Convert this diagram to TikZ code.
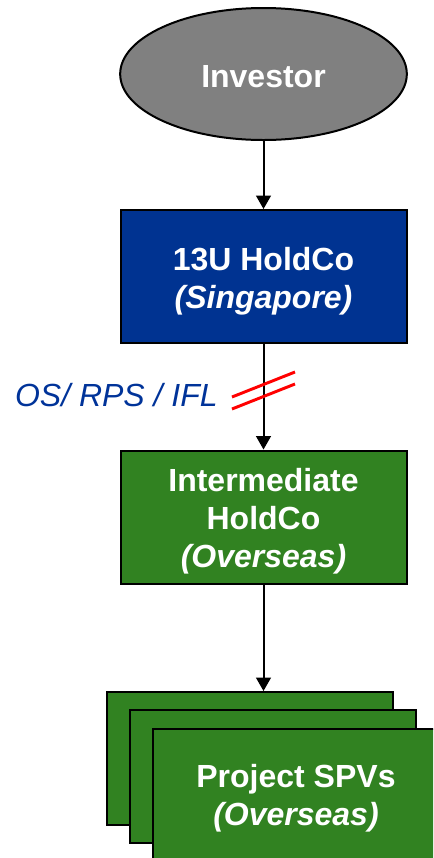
\documentclass[tikz,border=0pt]{standalone}
\usepackage{fontspec}
\setmainfont{Liberation Sans}
\usetikzlibrary{shapes.geometric,arrows.meta}
\definecolor{invgray}{RGB}{128,128,128}
\definecolor{hcblue}{RGB}{0,51,145}
\definecolor{hcgreen}{RGB}{49,130,33}
\definecolor{lblblue}{RGB}{0,51,153}
\begin{document}
\begin{tikzpicture}[x=0.75pt,y=-0.75pt,
  boxtext/.style={text=white,align=center,inner sep=0pt,font=\fontsize{24}{28.5}\selectfont\bfseries},
  entbox/.style={draw=black,line width=1.5pt,minimum width=214.5pt,minimum height=99.75pt,inner sep=0pt},
  arr/.style={line width=1.5pt,-{Triangle[width=11pt,length=10pt]}},
  cutline/.style={red,line width=2.2pt}
]
\clip (0,0) rectangle (433,858);
\useasboundingbox (0,0) rectangle (433,858);
\node[ellipse,draw=black,line width=1.5pt,fill=invgray,minimum width=215pt,minimum height=99pt,inner sep=0pt] (inv) at (263.5,74) {};
\node[boxtext] (invt) at ([yshift=-2.3pt]inv.center) {Investor};
\node[entbox,fill=hcblue] (sg) at (263.5,276.5) {};
\node[boxtext] (sgt) at ([yshift=-3.2pt]sg.center) {13U HoldCo\\\textit{(Singapore)}};
\node[entbox,fill=hcgreen] (ih) at (263.5,517) {};
\node[boxtext] (iht) at ([yshift=-3.5pt]ih.center) {Intermediate\\HoldCo\\\textit{(Overseas)}};
\node[entbox,fill=hcgreen] (spv1) at (250,758.5) {};
\node[entbox,fill=hcgreen] (spv2) at (273,776.5) {};
\node[entbox,fill=hcgreen] (spv3) at (296,795.5) {};
\node[boxtext] (spvt) at ([yshift=-2.3pt]spv3.center) {Project SPVs\\\textit{(Overseas)}};
\draw[arr] (inv.south) -- (sg.north);
\draw[arr] (sg.south) -- (ih.north);
\draw[arr] (ih.south) -- (ih.south |- spv1.north);
\draw[cutline] (232,397) -- (295,372);
\draw[cutline] (232,409) -- (295,384);
\node[anchor=base east,inner sep=0pt,text=lblblue,font=\fontsize{24}{28}\selectfont\itshape] (lbl) at (218,406) {OS/ RPS / IFL};
\end{tikzpicture}
\end{document}
